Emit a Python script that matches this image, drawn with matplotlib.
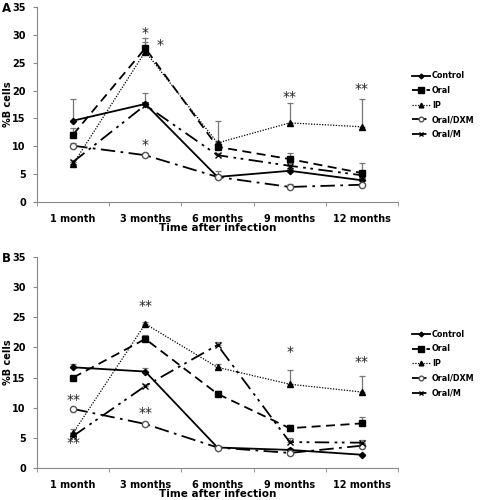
import matplotlib
matplotlib.use("Agg")
import matplotlib.pyplot as plt
import numpy as np

categories = ["1 month", "3 months", "6 months", "9 months", "12 months"]
series_names = ["Control", "Oral", "IP", "Oral/DXM", "Oral/M"]

# Panel A values
a_control = [14.6, 17.6, 4.5, 5.6, 3.9]
a_oral = [12.1, 27.6, 9.9, 7.7, 5.2]
a_ip = [6.8, 27.0, 10.6, 14.2, 13.5]
a_dxm = [10.1, 8.4, 4.5, 2.7, 3.1]
a_oralm = [7.2, 17.4, 8.4, 6.5, 4.8]
# Panel A upper error
a_control_err = [3.9, 2.0, 1.0, 0.5, 0.5]
a_oral_err = [1.2, 1.2, 0.8, 1.1, 1.8]
a_ip_err = [0.4, 2.5, 4.0, 3.6, 5.0]
a_dxm_err = [0.5, 0.4, 0.3, 0.6, 0.3]
a_oralm_err = [0.4, 0.6, 0.4, 0.5, 0.4]

# Panel B values
b_control = [16.7, 16.0, 3.4, 3.0, 2.2]
b_oral = [15.0, 21.4, 12.3, 6.6, 7.4]
b_ip = [5.8, 23.9, 16.7, 13.9, 12.6]
b_dxm = [9.8, 7.3, 3.4, 2.5, 3.7]
b_oralm = [5.3, 13.6, 20.4, 4.3, 4.2]
b_control_err = [0.5, 0.6, 0.2, 0.3, 0.2]
b_oral_err = [0.3, 0.7, 0.4, 0.5, 1.0]
b_ip_err = [0.6, 0.4, 0.6, 2.3, 2.7]
b_dxm_err = [0.2, 0.2, 0.2, 0.3, 0.4]
b_oralm_err = [0.6, 0.3, 0.5, 0.7, 0.5]

# significance marks: (category index, x offset, value, text)
a_marks = [(1, 0, 30.4, "*"), (1, 0.2, 28.1, "*"), (1, 0, 10.3, "*"),
           (3, 0, 18.9, "**"), (4, 0, 20.3, "**")]
b_marks = [(1, 0, 26.8, "**"), (0, 0, 11.2, "**"), (0, 0, 4.2, "**"),
           (1, 0, 9.1, "**"), (3, 0, 19.3, "*"), (4, 0, 17.6, "**")]

styles = [
    dict(ls="-", lw=1.3, marker="D", ms=3.2, mfc="black", mec="black"),
    dict(ls=(0, (5, 3)), lw=1.3, marker="s", ms=5, mfc="black", mec="black"),
    dict(ls=(0, (1, 1.2)), lw=0.9, marker="^", ms=4.5, mfc="black", mec="black"),
    dict(ls=(0, (8, 3, 1.5, 3)), lw=1.3, marker="o", ms=4.5, mfc="white", mec="#555555"),
    dict(ls=(0, (8, 3, 1.5, 2.5, 1.5, 3)), lw=1.3, marker="x", ms=4, mfc="black", mec="black"),
]

fig = plt.figure(figsize=(4.8, 5.0), dpi=100)
axA = fig.add_axes([37/480, 1-202/500, 361/480, 195/500])
axB = fig.add_axes([37/480, 1-468/500, 361/480, 211/500])

x = np.arange(len(categories))

def draw(ax, vals, errs, marks, legend_y, h_px):
    handles = []
    for v, e, st, name in zip(vals, errs, styles, series_names):
        ax.errorbar(x, v, yerr=[np.zeros(len(e)), e], fmt="none", ecolor="#777777",
                    elinewidth=0.9, capsize=2, capthick=0.9, zorder=2)
        h, = ax.plot(x, v, color="black", label=name, zorder=3, **st)
        handles.append(h)
    for ci, dx, val, t in marks:
        ax.text(ci + dx, val, t, ha="center", va="center", fontsize=10,
                color="#222222", zorder=4)
    ax.set_xlim(-0.5, 4.5)
    ax.set_ylim(0, 35)
    ax.set_yticks(range(0, 36, 5))
    ax.set_xticks(x)
    ax.set_xticklabels(categories, fontsize=7, fontweight="bold")
    ax.set_xticks(np.arange(-0.5, 4.6, 1), minor=True)
    ax.tick_params(axis="x", which="major", length=0, pad=9)
    ax.tick_params(axis="x", which="minor", length=3, color="#888888", direction="out")
    ax.tick_params(axis="y", length=3, color="#888888", labelsize=7, pad=5)
    for lab in ax.get_yticklabels():
        lab.set_fontweight("bold")
    ax.spines["top"].set_visible(False)
    ax.spines["right"].set_visible(False)
    ax.spines["left"].set_color("#888888")
    ax.spines["bottom"].set_color("#888888")
    ax.set_ylabel("%B cells", fontsize=7, fontweight="bold")
    ax.yaxis.set_label_coords(-24/361, 0.5)
    ax.set_xlabel("Time after infection", fontsize=7.5, fontweight="bold")
    ax.xaxis.set_label_coords(0.5, -21/h_px)
    leg = ax.legend(handles=handles, loc="upper left",
                    bbox_to_anchor=(1.04, legend_y), frameon=False,
                    prop=dict(size=5.8, weight="bold"), handlelength=2.2,
                    handletextpad=0.2, labelspacing=0.7, borderaxespad=0,
                    borderpad=0, markerscale=0.75)
    return leg

draw(axA, [a_control, a_oral, a_ip, a_dxm, a_oralm],
     [a_control_err, a_oral_err, a_ip_err, a_dxm_err, a_oralm_err], a_marks, 0.67, 195)
draw(axB, [b_control, b_oral, b_ip, b_dxm, b_oralm],
     [b_control_err, b_oral_err, b_ip_err, b_dxm_err, b_oralm_err], b_marks, 0.655, 211)

fig.text(2/480, 1-8/500, "A", fontsize=8.5, fontweight="bold", va="center")
fig.text(2/480, 1-258/500, "B", fontsize=8.5, fontweight="bold", va="center")

fig.savefig("out.png", dpi=100)
